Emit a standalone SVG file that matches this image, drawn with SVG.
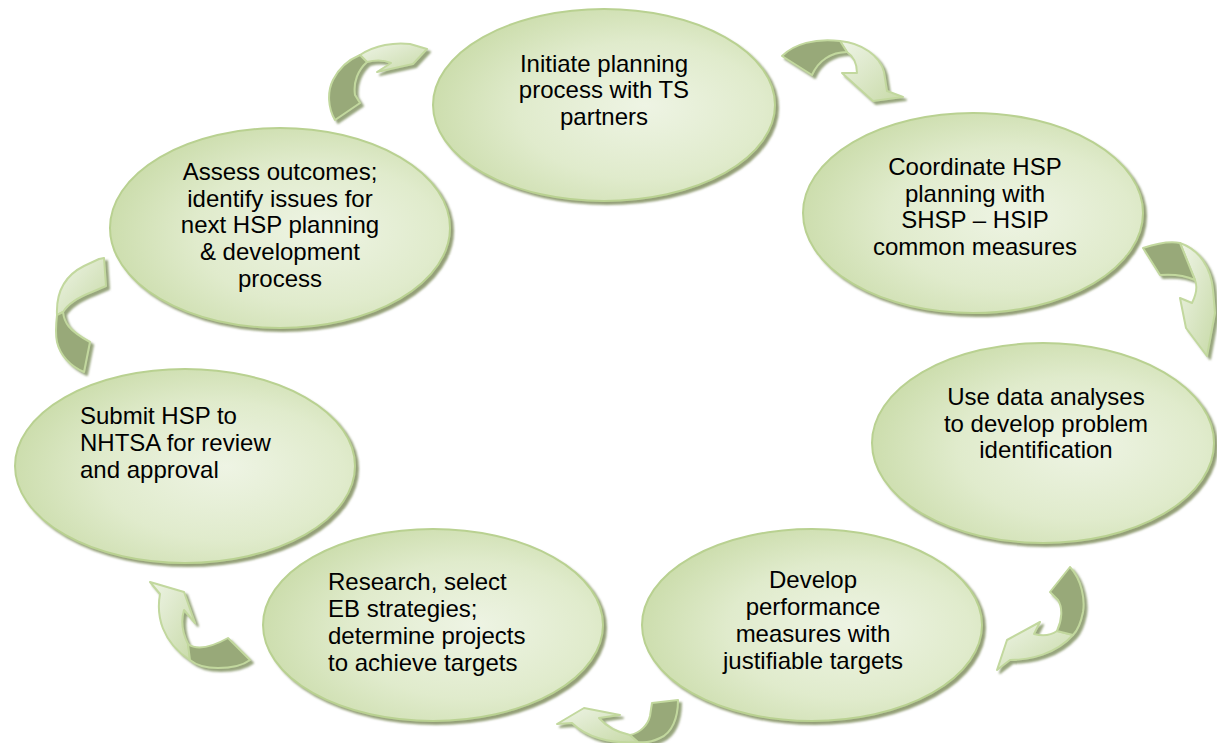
<svg xmlns="http://www.w3.org/2000/svg" width="1217" height="743" viewBox="0 0 1217 743">
<defs>
<radialGradient id="eg" cx="0.6" cy="0.55" r="0.65" fx="0.62" fy="0.5">
<stop offset="0" stop-color="#eef4e4"/>
<stop offset="0.55" stop-color="#e0ebcc"/>
<stop offset="1" stop-color="#c9dba8"/>
</radialGradient>
<linearGradient id="ag" x1="0" y1="0" x2="1" y2="1">
<stop offset="0" stop-color="#eef4e6"/>
<stop offset="1" stop-color="#c8daa8"/>
</linearGradient>
<filter id="sh" x="-10%" y="-10%" width="130%" height="130%">
<feDropShadow dx="3" dy="3" stdDeviation="1.2" flood-color="#6f804c" flood-opacity="0.75"/>
</filter>
<filter id="ash" x="-20%" y="-20%" width="150%" height="150%">
<feDropShadow dx="3" dy="3" stdDeviation="0.8" flood-color="#7e8f5c" flood-opacity="0.8"/>
</filter>
</defs>
<style>
.node ellipse{fill:url(#eg);stroke:#b9d191;stroke-width:2;filter:url(#sh)}
.node text{font-family:"Liberation Sans",Arial,sans-serif;font-size:24px;fill:#000}
.c{text-anchor:middle}
.arrow{filter:url(#ash)}
.dk{fill:#98a979;stroke:#c2d89e;stroke-width:2;stroke-linejoin:round}
.lt{fill:url(#ag);stroke:#c2d89e;stroke-width:2;stroke-linejoin:round}
</style>
<rect width="1217" height="743" fill="#ffffff"/>

<g id="connectors">
<g class="arrow" id="a1">
<path class="lt" d="M840,41 C862,43 880,56 884,72 L887,91 L903,97 L873,101 L842,73 L857,73 C857,63 853,56 847,52 Z"/>
<path class="dk" d="M782,56 C794,44 815,38 840,41 L847,52 C831,52 818,61 812,75 Z"/>
</g>
<g class="arrow" id="a2">
<path class="lt" d="M1180,243 C1200,250 1211,268 1213,290 L1215,313 L1207,356 L1186,328 L1180,298 L1192,303 C1197,293 1197,285 1195,280 Z"/>
<path class="dk" d="M1143,248 C1158,243 1170,241 1180,243 L1195,280 C1184,275 1172,274 1160,275 Z"/>
</g>
<g class="arrow" id="a3">
<path class="lt" d="M1057,631 C1050,636 1042,636 1034,634 L1040,622 L1007,640 L997,670 L1010,660 C1030,660 1056,654 1073,635 Z"/>
<path class="dk" d="M1070,567 C1082,580 1085,600 1083,612 C1081,622 1078,630 1073,635 L1057,631 C1062,620 1063,608 1058,600 L1050,592 Z"/>
</g>
<g class="arrow" id="a4">
<path class="lt" d="M630,735 C616,732 606,726 599,718 L620,715 L584,708 L557,724 L572,723 C586,737 610,744 638,742 Z"/>
<path class="dk" d="M652,703 L678,700 C678,718 672,733 660,738 C652,742 645,743 638,742 L630,735 C640,733 648,725 650,716 Z"/>
</g>
<g class="arrow" id="a5">
<path class="lt" d="M188,644 C182,632 181,620 184,610 L195,623 L184,592 L150,582 L160,594 C156,616 162,642 190,660 Z"/>
<path class="dk" d="M228,638 L250,660 C242,666 232,668 218,668 C205,668 196,665 190,660 L188,644 C196,650 210,648 228,638 Z"/>
</g>
<g class="arrow" id="a6">
<path class="lt" d="M57,315 C56,294 64,276 84,266 L99,259 L104,258 L106,286 L92,292 C79,297 68,304 63,312 Z"/>
<path class="dk" d="M57,315 L63,312 C64,322 68,330 90,342 L84,372 C70,366 60,355 57,342 C55,333 56,324 57,315 Z"/>
</g>
<g class="arrow" id="a7">
<path class="lt" d="M360,55 C375,45 395,42 410,44 L427,49 L413,64 L377,72 L391,63 C384,60 375,60 367,62 Z"/>
<path class="dk" d="M335,120 C328,108 327,92 333,80 C339,68 348,60 360,55 L367,62 C358,70 353,82 355,95 L360,103 Z"/>
</g>
</g>

<g id="n1" class="node">
<ellipse cx="604" cy="105" rx="171" ry="96"/>
<text class="c" x="604" y="72">Initiate planning</text>
<text class="c" x="604" y="98">process with TS</text>
<text class="c" x="604" y="125">partners</text>
</g>
<g id="n2" class="node">
<ellipse cx="973" cy="213" rx="170" ry="100"/>
<text class="c" x="975" y="175">Coordinate HSP</text>
<text class="c" x="975" y="202">planning with</text>
<text class="c" x="975" y="228">SHSP – HSIP</text>
<text class="c" x="975" y="255">common measures</text>
</g>
<g id="n3" class="node">
<ellipse cx="1043" cy="443" rx="171" ry="100"/>
<text class="c" x="1046" y="405">Use data analyses</text>
<text class="c" x="1046" y="432">to develop problem</text>
<text class="c" x="1046" y="458">identification</text>
</g>
<g id="n4" class="node">
<ellipse cx="812" cy="625" rx="170" ry="96"/>
<text class="c" x="813" y="588">Develop</text>
<text class="c" x="813" y="615">performance</text>
<text class="c" x="813" y="642">measures with</text>
<text class="c" x="813" y="669">justifiable targets</text>
</g>
<g id="n5" class="node">
<ellipse cx="433" cy="625" rx="170" ry="96"/>
<text x="328" y="590">Research, select</text>
<text x="328" y="617">EB strategies;</text>
<text x="328" y="644">determine projects</text>
<text x="328" y="671">to achieve targets</text>
</g>
<g id="n6" class="node">
<ellipse cx="185" cy="466" rx="170" ry="97"/>
<text x="80" y="424">Submit HSP to</text>
<text x="80" y="451">NHTSA for review</text>
<text x="80" y="478">and approval</text>
</g>
<g id="n7" class="node">
<ellipse cx="280" cy="228" rx="170" ry="100"/>
<text class="c" x="280" y="180">Assess outcomes;</text>
<text class="c" x="280" y="207">identify issues for</text>
<text class="c" x="280" y="233">next HSP planning</text>
<text class="c" x="280" y="260">&amp; development</text>
<text class="c" x="280" y="287">process</text>
</g>
</svg>
